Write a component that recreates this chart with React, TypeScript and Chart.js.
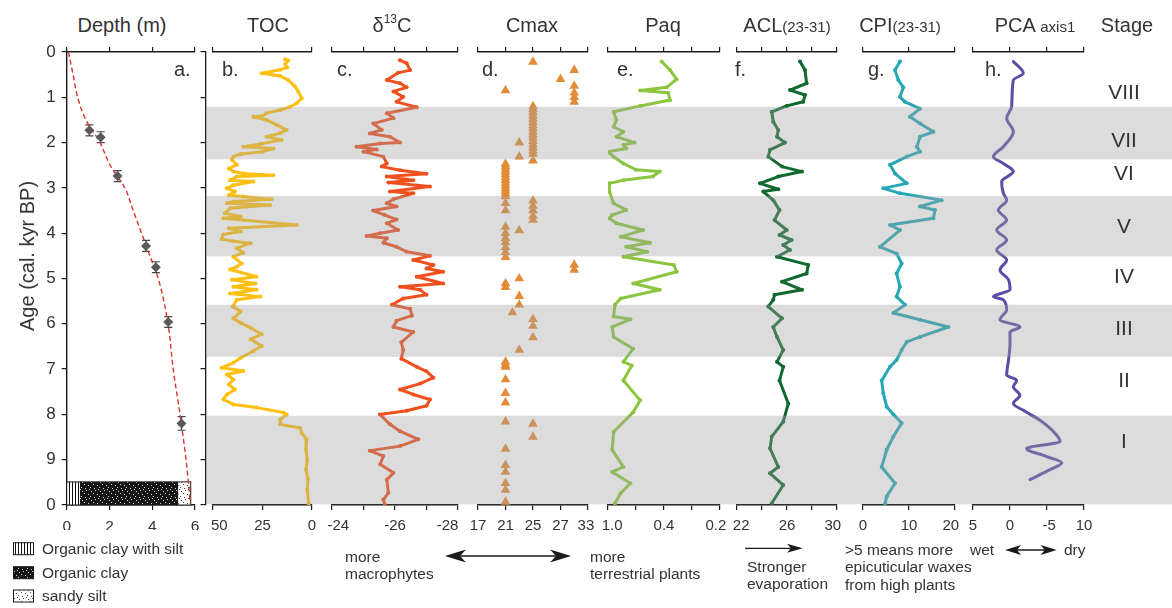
import React, { useEffect, useRef } from 'react';
import { Chart, registerables } from 'chart.js';

Chart.register(...registerables);

const FONT = '"Liberation Sans", Arial, Helvetica, sans-serif';
const INK = '#1a1a1a';
const TXT = '#333333';
const BAND_FILL = 'rgba(160,160,160,0.37)';

// ---------- shared age axis / stages ----------
const ageTickValues = [0, 1, 2, 3, 4, 5, 6, 7, 8, 9, 10];
const ageTickLabels = ['0', '1', '2', '3', '4', '5', '6', '7', '8', '9', '10'];
const bandFrom = [1.21, 3.18, 5.58, 8.03];
const bandTo = [2.37, 4.51, 6.73, 10];
const stageNames = ['VIII', 'VII', 'VI', 'V', 'IV', 'III', 'II', 'I'];
const stageAge = [0.9, 1.97, 2.7, 3.87, 4.98, 6.12, 7.26, 8.62];

// ---------- a. age-depth model ----------
const modelAge = [0, 0.5, 1, 1.5, 2, 2.5, 3, 3.5, 4, 4.5, 5, 6, 7, 8, 9, 10];
const modelDepth = [0.08, 0.3, 0.51, 0.9, 1.56, 2.03, 2.72, 3.11, 3.5, 3.89, 4.28, 4.74, 4.98, 5.3, 5.58, 5.79];
const dateAge = [1.73, 1.88, 2.74, 4.28, 4.75, 5.96, 8.2];
const dateDepth = [1.06, 1.59, 2.38, 3.71, 4.17, 4.75, 5.37];
const dateErr = [0.12, 0.12, 0.12, 0.12, 0.12, 0.12, 0.15];
const lithoNames = ['Organic clay with silt', 'Organic clay', 'sandy silt'];
const lithoFrom = [0, 0.62, 5.22];
const lithoTo = [0.62, 5.22, 5.8];
const lithoTopAge = 9.49;
const depthTicks = [0, 2, 4, 6];
const depthTickLabels = ['0', '2', '4', '6'];

// ---------- b. TOC ----------
const tocAge = [0.16, 0.19, 0.27, 0.34, 0.39, 0.47, 0.53, 0.62, 0.76, 0.87, 1.02, 1.13, 1.21, 1.28, 1.35, 1.41, 1.43, 1.5, 1.61, 1.72, 1.79, 1.87, 1.94, 2.03, 2.09, 2.13, 2.2, 2.25, 2.31, 2.38, 2.49, 2.57, 2.64, 2.68, 2.72, 2.75, 2.83, 2.86, 2.94, 3.01, 3.08, 3.16, 3.19, 3.25, 3.3, 3.34, 3.38, 3.45, 3.56, 3.63, 3.67, 3.71, 3.82, 3.89, 3.96, 4.03, 4.13, 4.18, 4.22, 4.33, 4.43, 4.52, 4.67, 4.74, 4.8, 4.96, 5.03, 5.11, 5.18, 5.25, 5.33, 5.4, 5.47, 5.62, 5.73, 5.88, 5.98, 6.09, 6.23, 6.34, 6.49, 6.6, 6.75, 6.86, 6.97, 7.04, 7.12, 7.23, 7.34, 7.45, 7.56, 7.67, 7.78, 7.85, 7.96, 8.0, 8.11, 8.22, 8.3, 8.41, 8.55, 8.78, 9.0, 9.22, 9.44, 9.66, 9.96];
const tocVal = [13.6, 12, 13.6, 12.5, 16, 25.4, 16, 12, 8.6, 7, 5.2, 7.7, 11, 16, 23, 25, 29.6, 23, 17.8, 12.8, 16, 23, 15.3, 26, 34.7, 19.5, 25, 36, 39.7, 40.5, 38, 42, 39.7, 34.7, 19.5, 38, 41.4, 29.6, 39.7, 43, 38.9, 42, 34.7, 20.4, 39.7, 43, 21.2, 41.4, 44, 36, 44.8, 34.7, 7.7, 42, 36, 44.8, 45.6, 39.7, 31, 38, 34.7, 39.7, 35.5, 38, 41.4, 28, 40.5, 28.6, 39.7, 28, 41.4, 26, 38, 40, 36, 39.7, 36, 31, 25.4, 31, 25.4, 29.6, 36, 39.7, 45.6, 34.7, 43, 39.7, 42, 38.9, 43, 44.8, 39.7, 28, 14.5, 12.8, 16, 16, 6, 5.2, 2.7, 3, 2.4, 3, 2, 2.4, 1.7];
const tocTicks = [0, 25, 50];
const tocTickLabels = ['0', '25', '   50'];

// ---------- c. d13C ----------
const d13Age = [0.18, 0.25, 0.4, 0.46, 0.62, 0.69, 0.78, 0.87, 0.99, 1.1, 1.22, 1.35, 1.46, 1.58, 1.72, 1.8, 1.87, 2.0, 2.02, 2.09, 2.15, 2.2, 2.31, 2.46, 2.53, 2.61, 2.69, 2.75, 2.83, 2.88, 2.97, 3.08, 3.12, 3.25, 3.34, 3.41, 3.5, 3.6, 3.7, 3.78, 3.93, 4.0, 4.06, 4.11, 4.21, 4.3, 4.41, 4.5, 4.59, 4.7, 4.78, 4.85, 4.96, 5.11, 5.18, 5.25, 5.36, 5.44, 5.58, 5.67, 5.82, 5.93, 6.07, 6.18, 6.41, 6.58, 6.77, 6.95, 7.05, 7.19, 7.32, 7.45, 7.56, 7.67, 7.81, 7.92, 8.0, 8.22, 8.37, 8.55, 8.7, 8.8, 8.92, 9.1, 9.29, 9.44, 9.73, 9.88, 9.99];
const d13Val = [-26.16, -26.37, -26.48, -26.1, -25.74, -26.16, -26.37, -25.95, -26.26, -26.05, -26.69, -25.74, -25.95, -25.31, -25.58, -25.2, -25.84, -26.16, -25.53, -24.78, -25.42, -25.0, -25.63, -25.74, -25.58, -26.16, -27.0, -25.74, -26.58, -25.79, -27.11, -25.84, -26.58, -25.95, -25.74, -26.05, -25.31, -25.68, -26.05, -25.74, -26.1, -25.53, -25.1, -25.74, -25.63, -26.05, -26.37, -27.11, -26.58, -27.22, -27.0, -27.53, -26.69, -27.53, -26.16, -26.8, -27.0, -26.26, -25.9, -26.48, -26.54, -26.05, -25.95, -26.58, -26.2, -26.26, -26.2, -26.69, -27.0, -27.22, -26.8, -26.16, -26.58, -27.11, -27.0, -26.37, -25.52, -25.84, -26.16, -26.74, -26.16, -25.2, -25.63, -25.53, -25.95, -25.74, -25.79, -25.63, -25.68];
const d13Ticks = [-28, -27, -26, -25, -24];
const d13TickLabels = ['-28     ', '', '-26', '', '   -24'];

// ---------- d. Cmax ----------
const cmaxAge = [0.22, 0.4, 0.6, 0.75, 0.85, 0.9, 1.0, 1.1, 1.2, 1.27, 1.34, 1.41, 1.48, 1.55, 1.62, 1.69, 1.76, 1.83, 1.9, 1.97, 2.0, 2.04, 2.11, 2.18, 2.25, 2.31, 2.4, 2.47, 2.53, 2.59, 2.65, 2.71, 2.77, 2.83, 2.89, 2.95, 3.01, 3.07, 3.13, 3.19, 3.28, 3.34, 3.4, 3.5, 3.5, 3.62, 3.71, 3.86, 3.94, 4.0, 4.11, 4.2, 4.31, 4.42, 4.53, 4.7, 4.81, 5.0, 5.11, 5.19, 5.39, 5.58, 5.75, 5.9, 6.05, 6.3, 6.58, 6.84, 6.91, 6.95, 7.23, 7.53, 7.74, 8.16, 8.21, 8.5, 8.76, 9.12, 9.27, 9.52, 9.67, 9.93];
const cmaxVal = [25, 31, 29, 31, 21, 31, 31, 31, 25, 25, 25, 25, 25, 25, 25, 25, 25, 25, 25, 25, 23, 25, 25, 25, 25, 23, 25, 21, 21, 21, 21, 21, 21, 21, 21, 21, 21, 21, 21, 21, 25, 21, 25, 21, 25, 25, 25, 21, 23, 21, 21, 21, 21, 21, 21, 31, 31, 23, 21, 21, 23, 23, 22, 25, 25, 25, 23, 21, 21, 21, 21, 21, 21, 21, 25, 25, 21, 21, 21, 21, 21, 21];
const cmaxTicks = [17, 21, 25, 29, 33];
const cmaxTickLabels = ['17', '21', '25', '27', '33 '];

// ---------- e. Paq ----------
const paqAge = [0.21, 0.4, 0.6, 0.78, 0.85, 0.9, 1.06, 1.19, 1.32, 1.5, 1.65, 1.76, 1.87, 2.0, 2.05, 2.13, 2.2, 2.31, 2.46, 2.6, 2.64, 2.75, 2.83, 2.9, 3.08, 3.34, 3.49, 3.6, 3.67, 3.78, 3.93, 4.08, 4.21, 4.3, 4.41, 4.52, 4.7, 4.85, 5.11, 5.25, 5.44, 5.58, 5.84, 5.9, 6.07, 6.29, 6.55, 6.84, 6.92, 7.25, 7.69, 7.95, 8.39, 8.78, 9.16, 9.27, 9.52, 9.74, 9.96];
const paqVal = [0.617, 0.557, 0.51, 0.58, 0.77, 0.57, 0.557, 0.77, 0.96, 0.94, 0.96, 0.89, 0.94, 0.81, 0.89, 0.87, 1.0, 0.96, 0.89, 0.8, 0.63, 0.68, 0.89, 0.99, 0.99, 0.96, 0.87, 0.97, 0.99, 0.94, 0.75, 0.91, 0.7, 0.87, 0.72, 0.89, 0.53, 0.51, 0.82, 0.63, 0.91, 0.95, 0.96, 0.84, 0.97, 0.96, 0.82, 0.89, 0.83, 0.89, 0.77, 0.82, 0.96, 0.97, 0.89, 0.97, 0.84, 0.91, 0.95];
const paqTicks = [0.2, 0.4, 0.6, 0.8, 1.0];
const paqTickLabels = ['0.2  ', '', '0.4', '', '  1.0'];

// ---------- f. ACL ----------
const aclAge = [0.21, 0.4, 0.69, 0.84, 0.95, 1.1, 1.19, 1.32, 1.54, 1.72, 1.87, 2.0, 2.16, 2.31, 2.53, 2.64, 2.75, 2.9, 3.03, 3.08, 3.27, 3.49, 3.71, 3.93, 4.04, 4.15, 4.26, 4.37, 4.52, 4.7, 4.89, 5.07, 5.25, 5.36, 5.47, 5.62, 5.88, 6.07, 6.29, 6.58, 6.84, 6.95, 7.25, 7.76, 8.16, 8.49, 8.75, 9.16, 9.3, 9.56, 9.96];
const aclVal = [27.04, 27.44, 27.57, 26.24, 27.44, 27.3, 25.98, 24.78, 24.9, 25.3, 25.2, 25.84, 24.64, 24.5, 25.6, 27.2, 25.3, 23.84, 25.3, 24.1, 24.9, 25.4, 25.0, 25.98, 25.4, 26.37, 25.7, 26.24, 25.2, 27.7, 27.57, 25.6, 27.2, 25.0, 24.9, 24.5, 25.6, 24.9, 25.2, 25.7, 25.2, 25.7, 25.4, 26.1, 25.7, 24.78, 24.64, 25.3, 24.64, 25.7, 24.78];
const aclTicks = [22, 24, 26, 28, 30];
const aclTickLabels = ['  22', '', '26', '', '30  '];

// ---------- g. CPI ----------
const cpiAge = [0.21, 0.4, 0.62, 0.78, 0.99, 1.1, 1.25, 1.43, 1.58, 1.76, 1.87, 2.09, 2.2, 2.31, 2.49, 2.68, 2.9, 3.01, 3.12, 3.27, 3.41, 3.49, 3.67, 3.82, 3.93, 4.3, 4.45, 4.67, 4.89, 5.18, 5.4, 5.58, 5.76, 5.91, 6.07, 6.29, 6.4, 6.58, 6.8, 6.95, 7.25, 7.54, 7.83, 8.0, 8.19, 8.49, 8.78, 9.16, 9.52, 9.81, 9.97];
const cpiVal = [8.04, 6.96, 7.68, 8.77, 8.04, 9.13, 12.4, 10.2, 12.4, 15.3, 12.4, 11.7, 12.4, 9.5, 5.87, 6.96, 9.5, 4.42, 8.04, 17.1, 12.4, 15.65, 15.3, 5.87, 8.04, 3.7, 7.3, 8.4, 7.3, 8.04, 7.3, 9.13, 6.6, 12.4, 18.55, 12.4, 9.5, 8.4, 7.3, 5.87, 4.06, 4.42, 5.15, 6.6, 8.4, 6.6, 5.15, 4.06, 6.96, 5.15, 4.8];
const cpiTicks = [0, 10, 20];
const cpiTickLabels = ['0', '10', '20  '];

// ---------- h. PCA axis 1 ----------
const pcaAge = [0.21, 0.47, 0.62, 1.2, 1.46, 1.76, 2.09, 2.31, 2.46, 2.64, 2.86, 3.12, 3.27, 3.49, 3.71, 3.93, 4.15, 4.37, 4.59, 4.81, 5.03, 5.25, 5.4, 5.47, 5.69, 5.91, 6.07, 6.18, 6.44, 6.8, 7.13, 7.25, 7.39, 7.58, 7.76, 7.91, 8.13, 8.42, 8.6, 8.75, 8.93, 9.07, 9.22, 9.44];
const pcaVal = [-0.45, -1.8, -0.45, -0.23, 0.45, -0.45, 0.9, 2.25, 0.9, -0.45, 1.13, 0.9, 0.45, 1.58, 0.45, 1.8, 0.45, 1.8, 0.45, 1.35, 0.2, 0.0, 2.25, 0.9, 0.45, 1.35, -1.35, 0.0, 0.0, 0.2, 0.45, -0.9, -0.45, -1.35, -0.45, -1.8, -4.05, -6.1, -6.76, -2.25, -4.95, -7.0, -5.4, -2.7];
const pcaTicks = [-10, -5, 0, 5];
const pcaTickLabels = ['10', ' -5', '0', '5'];

// ---------- helpers ----------
function xScales(min: number, max: number, reverse: boolean, tickVals: number[], tickLabels: string[], size: number = 15) {
  const build = (s: any) => {
    s.ticks = tickVals.map((v) => ({ value: v }));
  };
  const base: any = {
    type: 'linear',
    min,
    max,
    reverse,
    z: 1,
    afterBuildTicks: build,
    grid: { drawOnChartArea: false, drawTicks: true, tickLength: 5, color: INK, lineWidth: 1.2 },
    border: { display: true, color: INK, width: 1.4 },
  };
  return {
    x: {
      ...base,
      position: 'bottom',
      ticks: {
        autoSkip: false,
        maxRotation: 0,
        minRotation: 0,
        padding: 7,
        color: TXT,
        font: { family: FONT, size },
        callback: (_v: any, i: number) => tickLabels[i],
      },
      afterFit: (s: any) => {
        s.height = 25;
        s.paddingLeft = 0;
        s.paddingRight = 0;
      },
    },
    x2: {
      ...base,
      position: 'top',
      ticks: { display: false },
      afterFit: (s: any) => {
        s.height = 12;
        s.paddingLeft = 0;
        s.paddingRight = 0;
      },
    },
  };
}

const hiddenY = { type: 'linear', display: false, min: 0, max: 10, reverse: true };

function baseOptions(scales: any, padding: any) {
  return {
    animation: false,
    responsive: false,
    events: [],
    indexAxis: 'y',
    layout: { padding, autoPadding: false },
    plugins: { legend: { display: false }, tooltip: { enabled: false }, title: { display: false } },
    scales,
  };
}

function lineDs(ages: number[], vals: number[], color: string, extra: any = {}) {
  return {
    data: ages.map((a, i) => ({ x: vals[i], y: a })),
    borderColor: color,
    backgroundColor: color,
    borderWidth: 3,
    pointRadius: 2,
    pointBorderWidth: 0,
    pointHoverRadius: 0,
    tension: 0,
    borderJoinStyle: 'round',
    borderCapStyle: 'round',
    ...extra,
  };
}

function profileConfig(type: string, ds: any, xs: any, padL: number, padR: number) {
  return {
    type,
    data: { datasets: [ds] },
    options: baseOptions({ ...xs, y: hiddenY }, { left: padL, right: padR, top: 0, bottom: 0 }),
  };
}

function ChartBox({ left, top, width, height, make }: { left: number; top: number; width: number; height: number; make: () => any }) {
  const ref = useRef<HTMLCanvasElement | null>(null);
  useEffect(() => {
    const chart = new Chart(ref.current as HTMLCanvasElement, make());
    return () => chart.destroy();
  }, []);
  return <canvas ref={ref} width={width} height={height} style={{ position: 'absolute', left, top, width, height }} />;
}

function makePattern(ctx: CanvasRenderingContext2D, kind: number): CanvasPattern {
  const c = document.createElement('canvas');
  const g = c.getContext('2d') as CanvasRenderingContext2D;
  if (kind === 0) {
    c.width = 3;
    c.height = 3;
    g.fillStyle = '#ffffff';
    g.fillRect(0, 0, 3, 3);
    g.fillStyle = '#111111';
    g.fillRect(0, 0, 1, 3);
  } else {
    c.width = 9;
    c.height = 9;
    g.fillStyle = kind === 1 ? '#161616' : '#ffffff';
    g.fillRect(0, 0, 9, 9);
    g.fillStyle = kind === 1 ? '#d0d0d0' : '#444444';
    const dots = [[1, 1], [5, 0], [3, 3], [7, 4], [0, 6], [4, 7], [8, 8]];
    dots.forEach(([x, y]) => g.fillRect(x, y, 1, 1));
  }
  return ctx.createPattern(c, 'repeat') as CanvasPattern;
}

const panelAPlugin = {
  id: 'panelA',
  beforeDatasetsDraw(chart: any) {
    const { ctx } = chart;
    const x = chart.scales.x;
    const y = chart.scales.y;
    const pats = [0, 1, 2].map((k) => makePattern(ctx, k));
    ctx.save();
    // lithology column
    const yTop = y.getPixelForValue(lithoTopAge);
    const yBot = y.getPixelForValue(10);
    lithoFrom.forEach((f: number, i: number) => {
      const x0 = x.getPixelForValue(f);
      const x1 = x.getPixelForValue(lithoTo[i]);
      ctx.fillStyle = pats[i];
      ctx.fillRect(x0, yTop, x1 - x0, yBot - yTop);
    });
    ctx.strokeStyle = INK;
    ctx.lineWidth = 1;
    const xa = x.getPixelForValue(lithoFrom[0]);
    const xb = x.getPixelForValue(lithoTo[lithoTo.length - 1]);
    ctx.strokeRect(xa, yTop, xb - xa, yBot - yTop);
    // legend swatches (below the plot)
    const boxTop = [502.7, 526.7, 550];
    boxTop.forEach((bt, i) => {
      ctx.fillStyle = pats[i];
      ctx.fillRect(13.5, bt, 20, 12);
      ctx.strokeRect(13.5, bt, 20, 12);
    });
    // error bars
    ctx.strokeStyle = '#444444';
    ctx.lineWidth = 1.2;
    dateAge.forEach((a, i) => {
      const px = x.getPixelForValue(dateDepth[i]);
      const y0 = y.getPixelForValue(a - dateErr[i]);
      const y1 = y.getPixelForValue(a + dateErr[i]);
      ctx.beginPath();
      ctx.moveTo(px, y0);
      ctx.lineTo(px, y1);
      ctx.moveTo(px - 4, y0);
      ctx.lineTo(px + 4, y0);
      ctx.moveTo(px - 4, y1);
      ctx.lineTo(px + 4, y1);
      ctx.stroke();
    });
    ctx.restore();
  },
};

function panelAConfig() {
  const xs = xScales(0, 6, false, depthTicks, depthTickLabels, 15.5);
  return {
    type: 'line',
    data: {
      datasets: [
        {
          data: dateAge.map((a, i) => ({ x: dateDepth[i], y: a })),
          showLine: false,
          pointStyle: 'rectRot',
          pointRadius: 5,
          pointBorderWidth: 0,
          backgroundColor: '#5a5a5a',
          borderColor: '#5a5a5a',
        },
        {
          data: modelAge.map((a, i) => ({ x: modelDepth[i], y: a })),
          borderColor: '#d8342c',
          borderWidth: 1.4,
          borderDash: [5, 3],
          pointRadius: 0,
          cubicInterpolationMode: 'monotone',
        },
      ],
    },
    options: baseOptions(
      {
        ...xs,
        y: {
          type: 'linear',
          position: 'left',
          min: 0,
          max: 10,
          reverse: true,
          z: 1,
          afterBuildTicks: (s: any) => {
            s.ticks = ageTickValues.map((v) => ({ value: v }));
          },
          ticks: {
            color: TXT,
            padding: 6,
            font: { family: FONT, size: 17 },
            autoSkip: false,
            callback: (_v: any, i: number) => ageTickLabels[i],
          },
          grid: { drawOnChartArea: false, drawTicks: true, tickLength: 5, color: INK, lineWidth: 1.2 },
          border: { display: true, color: INK, width: 1.4 },
          afterFit: (s: any) => {
            s.width = 20;
            s.paddingTop = 0;
            s.paddingBottom = 0;
          },
        },
      },
      { left: 46.7, right: 10, top: 0, bottom: 78 }
    ),
    plugins: [panelAPlugin],
  };
}

function ageAxisConfig() {
  return {
    type: 'scatter',
    data: { datasets: [] },
    options: baseOptions(
      {
        x: { type: 'linear', display: false, min: 0, max: 1 },
        y: {
          type: 'linear',
          position: 'left',
          min: 0,
          max: 10,
          reverse: true,
          z: 1,
          afterBuildTicks: (s: any) => {
            s.ticks = ageTickValues.map((v) => ({ value: v }));
          },
          ticks: { display: false },
          grid: { drawOnChartArea: false, drawTicks: true, tickLength: 5, color: INK, lineWidth: 1.2 },
          border: { display: true, color: INK, width: 1.3 },
          afterFit: (s: any) => {
            s.width = 6;
            s.paddingTop = 0;
            s.paddingBottom = 0;
          },
        },
      },
      { left: 9.5, right: 0, top: 12, bottom: 25 }
    ),
  };
}

const bandPlugin = {
  id: 'bands',
  afterDraw(chart: any) {
    const { ctx, chartArea } = chart;
    const y = chart.scales.y;
    ctx.save();
    ctx.fillStyle = BAND_FILL;
    const left = 206.2;
    bandFrom.forEach((f, i) => {
      const y0 = y.getPixelForValue(f);
      const y1 = Math.min(y.getPixelForValue(bandTo[i]), chartArea.bottom - 0.7);
      ctx.fillRect(left, y0, chart.width - left, y1 - y0);
    });
    ctx.fillStyle = TXT;
    ctx.font = `21px ${FONT}`;
    ctx.textAlign = 'center';
    ctx.textBaseline = 'middle';
    stageNames.forEach((s, i) => ctx.fillText(s, 1124, y.getPixelForValue(stageAge[i])));
    ctx.restore();
  },
};

function bandConfig() {
  return {
    type: 'scatter',
    data: { datasets: [] },
    options: baseOptions(
      { x: { type: 'linear', display: false, min: 0, max: 1 }, y: hiddenY },
      { left: 0, right: 0, top: 12, bottom: 25 }
    ),
    plugins: [bandPlugin],
  };
}

function T({ x, b, size, children, align = 'left', color = TXT }: any) {
  const style: any = {
    position: 'absolute',
    top: b - 0.8465 * size,
    left: x,
    fontFamily: FONT,
    fontSize: size,
    lineHeight: `${size}px`,
    whiteSpace: 'nowrap',
    color,
  };
  if (align === 'center') style.transform = 'translateX(-50%)';
  if (align === 'right') style.transform = 'translateX(-100%)';
  return <div style={style}>{children}</div>;
}

function Arrows() {
  return (
    <svg width={1172} height={608} style={{ position: 'absolute', left: 0, top: 0, pointerEvents: 'none' }}>
      <g stroke={INK} strokeWidth={1.3}>
        <line x1={455} y1={556} x2={562} y2={556} />
        <line x1={745} y1={548.3} x2={795} y2={548.3} />
        <line x1={1012} y1={550} x2={1050} y2={550} />
      </g>
      <g fill={INK} stroke="none">
        <path d="M445 556 L466 549.5 L460 556 L466 562.5 Z" />
        <path d="M571 556 L550 549.5 L556 556 L550 562.5 Z" />
        <path d="M802.7 548.3 L787 543.8 L791 548.3 L787 552.8 Z" />
        <path d="M1005 550 L1021 545 L1017 550 L1021 555 Z" />
        <path d="M1056.7 550 L1040.7 545 L1044.7 550 L1040.7 555 Z" />
      </g>
    </svg>
  );
}

export default function App() {
  const H = 490;
  const TOP = 40;
  return (
    <div style={{ position: 'absolute', left: 0, top: 0, width: 1172, height: 608, background: '#ffffff', overflow: 'hidden' }}>
      <ChartBox left={0} top={TOP} width={205} height={568} make={panelAConfig} />
      <ChartBox left={190} top={TOP} width={30} height={H} make={ageAxisConfig} />
      <ChartBox
        left={193}
        top={TOP}
        width={139}
        height={H}
        make={() => profileConfig('line', lineDs(tocAge, tocVal, '#FDC010'), xScales(0, 50, true, tocTicks, tocTickLabels), 20, 20)}
      />
      <ChartBox
        left={312}
        top={TOP}
        width={166}
        height={H}
        make={() => profileConfig('line', lineDs(d13Age, d13Val, '#F0501E'), xScales(-28, -24, true, d13Ticks, d13TickLabels), 20, 20)}
      />
      <ChartBox
        left={458}
        top={TOP}
        width={150}
        height={H}
        make={() =>
          profileConfig(
            'scatter',
            {
              data: cmaxAge.map((a, i) => ({ x: cmaxVal[i], y: a })),
              pointStyle: 'triangle',
              pointRadius: 5.6,
              pointBorderWidth: 0,
              backgroundColor: '#E38B36',
              borderColor: '#E38B36',
              showLine: false,
            },
            xScales(17, 33, false, cmaxTicks, cmaxTickLabels),
            20,
            20
          )
        }
      />
      <ChartBox
        left={588}
        top={TOP}
        width={152}
        height={H}
        make={() => profileConfig('line', lineDs(paqAge, paqVal, '#8CC63F'), xScales(0.2, 1.0, true, paqTicks, paqTickLabels), 20, 20)}
      />
      <ChartBox
        left={717}
        top={TOP}
        width={140}
        height={H}
        make={() => profileConfig('line', lineDs(aclAge, aclVal, '#11692F'), xScales(22, 30, false, aclTicks, aclTickLabels), 20, 20)}
      />
      <ChartBox
        left={843}
        top={TOP}
        width={132}
        height={H}
        make={() => profileConfig('line', lineDs(cpiAge, cpiVal, '#25A8B4'), xScales(0, 20, false, cpiTicks, cpiTickLabels), 20, 20)}
      />
      <ChartBox
        left={953}
        top={TOP}
        width={151}
        height={H}
        make={() =>
          profileConfig(
            'line',
            lineDs(pcaAge, pcaVal, '#5A4EA6', { pointRadius: 0, cubicInterpolationMode: 'monotone' }),
            xScales(-10, 5, true, pcaTicks, pcaTickLabels),
            20,
            20
          )
        }
      />
      <ChartBox left={0} top={TOP} width={1172} height={H} make={bandConfig} />

      {/* column titles */}
      <T x={122} b={32} size={20} align="center">Depth (m)</T>
      <T x={268} b={32} size={20} align="center">TOC</T>
      <T x={392} b={32} size={20} align="center">
        δ<span style={{ fontSize: 12, position: 'relative', top: -9 }}>13</span>C
      </T>
      <T x={532} b={32} size={20} align="center">Cmax</T>
      <T x={663} b={32} size={20} align="center">Paq</T>
      <T x={787} b={32} size={20} align="center">
        ACL<span style={{ fontSize: 15 }}>(23-31)</span>
      </T>
      <T x={900} b={32} size={20} align="center">
        CPI<span style={{ fontSize: 15 }}>(23-31)</span>
      </T>
      <T x={1035} b={32} size={20} align="center">
        PCA <span style={{ fontSize: 15 }}>axis1</span>
      </T>
      <T x={1127} b={32} size={20} align="center">Stage</T>

      {/* panel letters */}
      <T x={174} b={76} size={20}>a.</T>
      <T x={222} b={76} size={20}>b.</T>
      <T x={337} b={76} size={20}>c.</T>
      <T x={482} b={76} size={20}>d.</T>
      <T x={617} b={76} size={20}>e.</T>
      <T x={735} b={76} size={20}>f.</T>
      <T x={868} b={76} size={20}>g.</T>
      <T x={985} b={76} size={20}>h.</T>

      {/* y-axis title */}
      <div
        style={{
          position: 'absolute',
          left: 27,
          top: 256,
          transform: 'translate(-50%, -50%) rotate(-90deg)',
          fontFamily: FONT,
          fontSize: 20,
          lineHeight: '20px',
          whiteSpace: 'nowrap',
          color: TXT,
        }}
      >
        Age (cal. kyr BP)
      </div>

      {/* lithology legend labels */}
      {lithoNames.map((n, i) => (
        <T key={n} x={42} b={[554, 578, 601.5][i]} size={15.5}>
          {n}
        </T>
      ))}

      {/* bottom annotations */}
      <T x={345} b={561.7} size={15.5}>more</T>
      <T x={345} b={579} size={15.5}>macrophytes</T>
      <T x={590} b={561.7} size={15.5}>more</T>
      <T x={590} b={579} size={15.5}>terrestrial plants</T>
      <T x={747} b={571.7} size={15.5}>Stronger</T>
      <T x={747} b={589.5} size={15.5}>evaporation</T>
      <T x={845} b={555} size={15.5}>&gt;5 means more</T>
      <T x={845} b={572.5} size={15.5}>epicuticular waxes</T>
      <T x={845} b={590} size={15.5}>from high plants</T>
      <T x={970} b={555} size={15.5}>wet</T>
      <T x={1064} b={555} size={15.5}>dry</T>
      <Arrows />
    </div>
  );
}
